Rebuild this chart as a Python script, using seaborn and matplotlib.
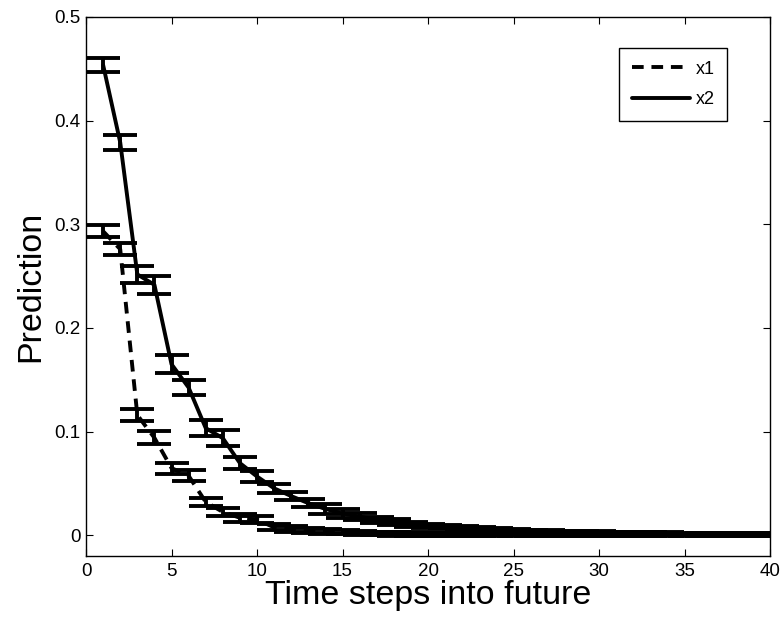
import numpy as np
import pandas as pd
import seaborn as sns
import matplotlib.pyplot as plt

# valores
steps = list(range(1, 41))

x1_mean = [0.2933, 0.276, 0.116, 0.094, 0.0648, 0.0574, 0.0321, 0.0225, 0.0169, 0.015,
           0.0077, 0.006, 0.0045, 0.0035, 0.0028, 0.0022, 0.0018, 0.0015, 0.0012, 0.001,
           0.0009, 0.0008, 0.0007, 0.0006, 0.0005, 0.0005, 0.0004, 0.0004, 0.0003, 0.0003,
           0.0003, 0.0002, 0.0002, 0.0002, 0.0002, 0.0001, 0.0001, 0.0001, 0.0001, 0.0001]
x1_err = [0.0056, 0.006, 0.0056, 0.0063, 0.0053, 0.0053, 0.0042, 0.0042, 0.004, 0.0035,
          0.003, 0.0027, 0.0025, 0.0022, 0.002, 0.002, 0.0018, 0.0018, 0.0017, 0.0016,
          0.0015, 0.0015, 0.0014, 0.0014, 0.0013, 0.0013, 0.0012, 0.0012, 0.0012, 0.0011,
          0.0011, 0.0011, 0.001, 0.001, 0.001, 0.001, 0.001, 0.001, 0.001, 0.001]

x2_mean = [0.4537, 0.379, 0.2517, 0.2416, 0.165, 0.1425, 0.1034, 0.0937, 0.0696, 0.0567,
           0.0453, 0.0378, 0.031, 0.0254, 0.021, 0.018, 0.015, 0.0125, 0.0105, 0.009,
           0.0077, 0.0066, 0.0057, 0.005, 0.0044, 0.0039, 0.0034, 0.003, 0.0027, 0.0024,
           0.0021, 0.0019, 0.0017, 0.0015, 0.0014, 0.0013, 0.0012, 0.0011, 0.001, 0.0009]
x2_err = [0.0072, 0.0072, 0.008, 0.0085, 0.0085, 0.0076, 0.0076, 0.0076, 0.006, 0.0053,
          0.0045, 0.004, 0.0038, 0.0045, 0.004, 0.0035, 0.003, 0.0028, 0.0025, 0.0023,
          0.002, 0.002, 0.0019, 0.0018, 0.0017, 0.0016, 0.0015, 0.0015, 0.0014, 0.0014,
          0.0013, 0.0013, 0.0012, 0.0012, 0.0012, 0.0011, 0.0011, 0.0011, 0.0011, 0.001]

sns.set_style("ticks")
plt.rcParams['font.family'] = ['Liberation Sans', 'DejaVu Sans']
plt.rcParams['xtick.direction'] = 'in'
plt.rcParams['ytick.direction'] = 'in'
plt.rcParams['text.color'] = 'black'
plt.rcParams['axes.labelcolor'] = 'black'
plt.rcParams['xtick.color'] = 'black'
plt.rcParams['ytick.color'] = 'black'
plt.rcParams['axes.edgecolor'] = 'black'

fig = plt.figure(figsize=(7.82, 6.2), dpi=100)
ax = fig.add_axes([0.11, 0.1032, 0.8747, 0.8694])

lw = 2.8
ax.errorbar(steps, x1_mean, yerr=x1_err, fmt='none', ecolor='black',
            elinewidth=lw, capsize=12.3, capthick=lw)
ax.errorbar(steps, x2_mean, yerr=x2_err, fmt='none', ecolor='black',
            elinewidth=lw, capsize=12.3, capthick=lw)
sns.lineplot(x=steps, y=x1_mean, ax=ax, color='black', linewidth=lw,
             label='x1').lines[-1].set_dashes((3, 2))
sns.lineplot(x=steps, y=x2_mean, ax=ax, color='black', linewidth=lw, label='x2')

ax.set_xlim(0, 40)
ax.set_ylim(-0.02, 0.5)
ax.set_xticks(range(0, 41, 5))
ax.set_yticks([0, 0.1, 0.2, 0.3, 0.4, 0.5])
ax.set_yticklabels(['0', '0.1', '0.2', '0.3', '0.4', '0.5'])
ax.tick_params(axis='both', labelsize=13.5, top=True, right=True, length=5, width=0.8)
ax.tick_params(axis='x', pad=5)
ax.tick_params(axis='y', pad=4)
for s in ax.spines.values():
    s.set_visible(True)
    s.set_linewidth(1.0)
ax.set_xlabel('Time steps into future', fontsize=24.5, labelpad=0)
ax.set_ylabel('Prediction', fontsize=24.5, labelpad=6)

leg = ax.legend(loc='upper right', bbox_to_anchor=(0.937, 0.9425), borderaxespad=0,
                fontsize=13, handlelength=3.2, fancybox=False, framealpha=1,
                edgecolor='black', handletextpad=0.3, borderpad=0.7, labelspacing=0.75)
leg.get_frame().set_linewidth(1.0)

fig.savefig('out.png', dpi=100)
